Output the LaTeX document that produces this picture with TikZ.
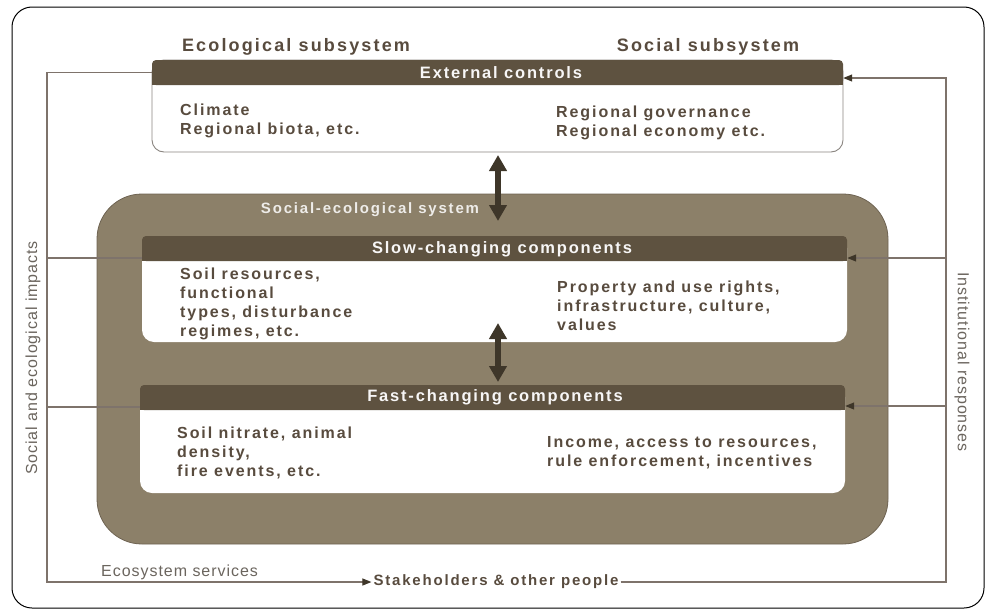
\documentclass[tikz,border=0pt]{standalone}
\usepackage{fontspec}
\setmainfont{Liberation Sans}
\newfontfamily\lsb[LetterSpace=12]{Liberation Sans}
\newfontfamily\lsh[LetterSpace=11]{Liberation Sans}
\newfontfamily\lsr[LetterSpace=6]{Liberation Sans}
\usetikzlibrary{arrows.meta,calc}
\definecolor{txt}{HTML}{584B3E}
\definecolor{hdr}{HTML}{5E5240}
\definecolor{reg}{HTML}{8C8069}
\definecolor{regb}{HTML}{6E6352}
\definecolor{fbl}{HTML}{7E736B}
\definecolor{dbla}{HTML}{3E3629}
\definecolor{vtx}{HTML}{6B655E}
\definecolor{bodyb}{HTML}{8A8580}
\begin{document}
\begin{tikzpicture}[x=1pt,y=-1pt,
  bodybox/.style={draw=bodyb, line width=0.9pt, fill=white, rounded corners=12pt, inner sep=0pt},
  hdrbox/.style={fill=hdr, rounded corners=4pt, inner sep=0pt, minimum height=25pt},
  hdrtxt/.style={text=white!95!hdr, font=\lsh\bfseries\fontsize{16.5}{19}\selectfont, inner sep=0pt},
  bodytxt/.style={text=txt, font=\lsb\bfseries\fontsize{16}{19}\selectfont, align=left, anchor=west, inner sep=0pt},
  toplbl/.style={text=txt, font=\lsb\bfseries\fontsize{18}{21}\selectfont, inner sep=0pt},
  vtxt/.style={text=vtx, font=\lsr\fontsize{16}{19}\selectfont, inner sep=0pt},
  fb/.style={draw=fbl, line width=1.1pt},
  tip/.style={-{Triangle[width=7pt,length=9pt,color=dbla]}},
  dbl/.style={draw=dbla, line width=6pt, {Triangle[width=17pt,length=16pt]}-{Triangle[width=17pt,length=16pt]}}
]
\useasboundingbox (0,0) rectangle (990,613);
% outer frame
\draw[black, line width=1pt, rounded corners=20pt] (12,7) rectangle (984,608);

% external controls box
\node[bodybox, minimum width=691pt, minimum height=92pt] (ext) at (497.5,106) {};
\node[hdrbox, minimum width=691pt] (exth) at (497.5,72.5) {};
\fill[hdr] (exth.west) rectangle (exth.south east);
\node[hdrtxt] (extt) at (501,73) {External controls};

% social-ecological region
\node[draw=regb, line width=0.8pt, fill=reg, rounded corners=45pt, minimum width=791pt, minimum height=350pt, inner sep=0pt] (ses) at (492.5,369) {};

% slow box
\node[bodybox, draw=none, minimum width=705pt, minimum height=106pt] (slow) at (494.5,289) {};
\node[hdrbox, minimum width=705pt] (slowh) at (494.5,248.5) {};
\fill[hdr] (slowh.west) rectangle (slowh.south east);
\node[hdrtxt] (slowt) at (502,249) {Slow-changing components};

% fast box
\node[bodybox, draw=none, minimum width=705pt, minimum height=108pt] (fast) at (492.5,439) {};
\node[hdrbox, minimum width=705pt] (fasth) at (492.5,397.5) {};
\fill[hdr] (fasth.west) rectangle (fasth.south east);
\node[hdrtxt] (fastt) at (495,397) {Fast-changing components};

% labels
\node[toplbl] (eco) at (296,47) {Ecological subsystem};
\node[toplbl] (soc) at (708,47) {Social subsystem};
\node[text=white!85!reg, font=\lsb\bfseries\fontsize{15}{18}\selectfont, inner sep=0pt] (sesl) at (370,210) {Social-ecological system};

\node[bodytxt] (clim) at (180,120.5) {Climate\\Regional biota, etc.};
\node[bodytxt] (gov) at (556,122.5) {Regional governance\\Regional economy etc.};
\node[bodytxt] (soilr) at (180,303.5) {Soil resources,\\functional\\types, disturbance\\regimes, etc.};
\node[bodytxt] (prop) at (557,305.5) {Property and use rights,\\infrastructure, culture,\\values};
\node[bodytxt] (nitr) at (177,452.5) {Soil nitrate, animal\\density,\\fire events, etc.};
\node[bodytxt] (inc) at (547,452.5) {Income, access to resources,\\rule enforcement, incentives};

\node[vtxt, rotate=90] (sei) at (33,358) {Social and ecological impacts};
\node[vtxt, rotate=-90] (ires) at (962,362) {Institutional responses};
\node[vtxt, anchor=west] (ess) at (101,572) {Ecosystem services};
\node[text=txt, font=\lsb\bfseries\fontsize{15}{18}\selectfont, inner sep=2pt] (stk) at (496,582) {Stakeholders \& other people};

% feedback lines
\coordinate (L1) at (47,72.5);
\coordinate (L2) at (47,258);
\coordinate (L3) at (47,407);
\coordinate (LB) at (47,582);
\coordinate (R1) at (946,78);
\coordinate (R2) at (946,258);
\coordinate (R3) at (946,406);
\coordinate (RB) at (946,582);
\draw[fb, tip] (exth.west) -- (L1) -- (LB) -- (stk.west);
\draw[fb] (L2) -- (L2 -| slowh.west);
\draw[fb] (L3) -- (L3 -| fasth.west);
\draw[fb, tip] (stk.east) -- (RB) -- (R1) -- (R1 -| exth.east);
\draw[fb, tip] (R2) -- (R2 -| slowh.east);
\draw[fb, tip] (R3) -- (R3 -| fasth.east);

% double arrows
\coordinate (a1) at (498,155);
\coordinate (a2) at (498,221);
\coordinate (a3) at (498,323);
\coordinate (a4) at (498,382);
\draw[dbl] (a1) -- (a2);
\draw[dbl] (a3) -- (a4);
\end{tikzpicture}
\end{document}
